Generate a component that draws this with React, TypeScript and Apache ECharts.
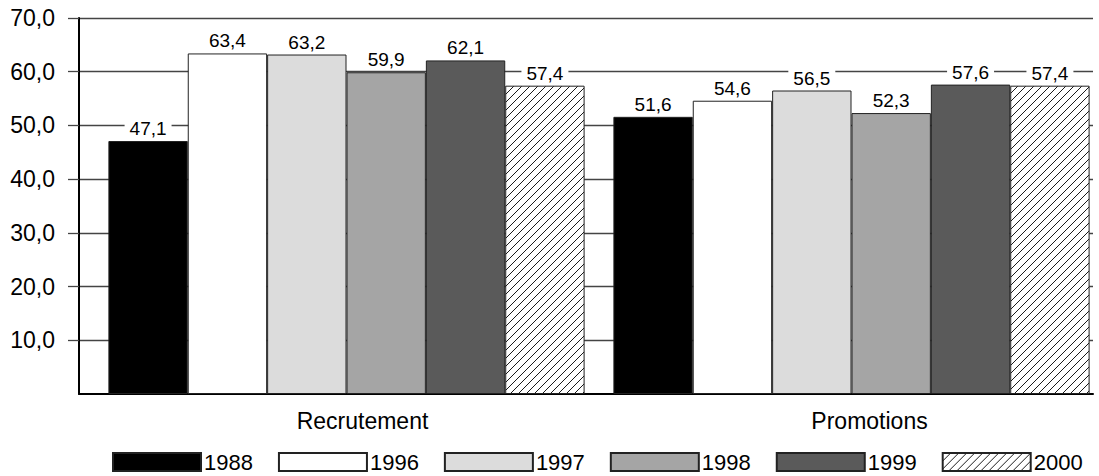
import React, { useEffect, useRef } from "react";
import * as echarts from "echarts";

const categories = ["Recrutement", "Promotions"];
const years = ["1988", "1996", "1997", "1998", "1999", "2000"];
const values1988 = [47.1, 51.6];
const values1996 = [63.4, 54.6];
const values1997 = [63.2, 56.5];
const values1998 = [59.9, 52.3];
const values1999 = [62.1, 57.6];
const values2000 = [57.4, 57.4];
const yTicks = [10, 20, 30, 40, 50, 60, 70];

const fmt = (v: number) => v.toFixed(1).replace(".", ",");

function makeHatch() {
  const c = document.createElement("canvas");
  const s = 8;
  c.width = s;
  c.height = s;
  const ctx = c.getContext("2d")!;
  ctx.fillStyle = "#ffffff";
  ctx.fillRect(0, 0, s, s);
  ctx.strokeStyle = "#000000";
  ctx.lineWidth = 0.9;
  ctx.beginPath();
  ctx.moveTo(-1, s + 1);
  ctx.lineTo(s + 1, -1);
  ctx.moveTo(-2, 2);
  ctx.lineTo(2, -2);
  ctx.moveTo(s - 2, s + 2);
  ctx.lineTo(s + 2, s - 2);
  ctx.stroke();
  return c;
}

export default function App() {
  const ref = useRef<HTMLDivElement>(null);
  useEffect(() => {
    if (!ref.current) return;
    const chart = echarts.init(ref.current, undefined, { renderer: "svg" });
    const hatch = { image: makeHatch(), repeat: "repeat" };
    const seriesData = [values1988, values1996, values1997, values1998, values1999, values2000];
    const colors: any[] = ["#000000", "#ffffff", "#dcdcdc", "#a5a5a5", "#5a5a5a", hatch];
    const font = "Liberation Sans, Arial, sans-serif";
    chart.setOption({
      animation: false,
      textStyle: { fontFamily: font, color: "#000" },
      grid: [
        { left: 79, right: 17, top: 18, bottom: 82, containLabel: false },
        { left: 94, right: 6, top: 18, bottom: 82, containLabel: false },
      ],
      legend: {
        bottom: 3,
        left: 112,
        padding: 0,
        itemWidth: 88,
        itemHeight: 18,
        itemGap: 25,
        icon: "rect",
        textStyle: { fontSize: 22, color: "#000", fontFamily: font, padding: [0, 0, 0, -2] },
        data: years,
      },
      xAxis: [
        {
          type: "category",
          gridIndex: 0,
          data: categories,
          axisLine: { show: true, lineStyle: { color: "#000", width: 2 } },
          axisTick: { show: false },
          axisLabel: { fontSize: 23, color: "#000", margin: 15, fontFamily: font, padding: [0, 0, 0, 60] },
          splitLine: { show: false },
        },
        {
          type: "category",
          gridIndex: 1,
          data: categories,
          show: false,
        },
      ],
      yAxis: [
        {
          type: "value",
          gridIndex: 0,
          min: 0,
          max: 70,
          interval: 10,
          axisLine: { show: true, lineStyle: { color: "#000", width: 2 } },
          axisTick: {
            show: true,
            length: 11,
            customValues: yTicks,
            lineStyle: { color: "#444", width: 1.3 },
          },
          axisLabel: {
            fontSize: 23,
            color: "#000",
            margin: 24,
            fontFamily: font,
            customValues: yTicks,
            formatter: (v: number) => fmt(v),
          },
          splitLine: { show: true, lineStyle: { color: "#444", width: 1.3 } },
        },
        {
          type: "value",
          gridIndex: 1,
          min: 0,
          max: 70,
          interval: 10,
          show: false,
          splitLine: { show: false },
        },
      ],
      series: years.map((y, i) => ({
        name: y,
        type: "bar",
        xAxisIndex: 1,
        yAxisIndex: 1,
        data: seriesData[i],
        barGap: "0%",
        barCategoryGap: "5.7%",
        itemStyle: { color: colors[i], borderColor: "#222", borderWidth: 1 },
        label: {
          show: true,
          position: "top",
          distance: 3,
          fontSize: 19,
          color: "#000",
          fontFamily: font,
          backgroundColor: "#fff",
          padding: [0, 5],
          formatter: (p: any) => fmt(p.value),
        },
      })),
    });
    return () => chart.dispose();
  }, []);
  return (
    <div style={{ position: "fixed", left: 0, top: 0, width: 1099, height: 476, overflow: "hidden", background: "#fff" }}>
      <div ref={ref} style={{ width: 1110, height: 476 }} />
    </div>
  );
}
